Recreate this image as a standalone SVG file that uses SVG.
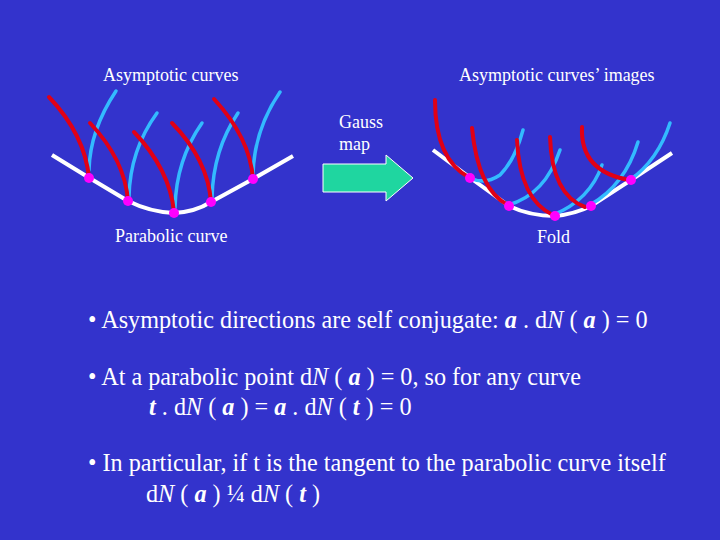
<svg xmlns="http://www.w3.org/2000/svg" width="720" height="540" viewBox="0 0 720 540">
<style>
.t{font-family:"Liberation Serif",serif;fill:#fff}
.s{font-size:18px}
.b{font-size:24.2px}
.e{font-weight:bold;font-style:italic}
.w{fill:none;stroke:#fff;stroke-width:4}
.r{fill:none;stroke:#e00016;stroke-width:4;stroke-linecap:round}
.c{fill:none;stroke:#33bbff;stroke-width:3.5;stroke-linecap:round}
.d{fill:#ff00ff}
</style>
<rect width="720" height="540" fill="#3333cc"/>
<g id="left">
<path class="w" d="M52,155 Q89,178 128,201 Q150,212 174,213 Q195,212 211,202 L253,179 L293,156"/>
<path class="c" d="M89,170 Q90,130 116,91"/>
<path class="c" d="M129,197 Q130,150 157,113"/>
<path class="c" d="M175,208 Q176,160 202,123"/>
<path class="c" d="M212,198 Q213,150 238,113"/>
<path class="c" d="M253,175 Q254,130 280,92"/>
<path class="r" d="M49,97 Q85,135 89,178"/>
<path class="r" d="M90,123 Q125,160 128,201"/>
<path class="r" d="M134,132 Q170,170 174,212"/>
<path class="r" d="M172,123 Q208,160 211,202"/>
<path class="r" d="M214,99 Q250,138 253,179"/>
<circle class="d" cx="89" cy="178" r="5"/><circle class="d" cx="128" cy="201" r="5"/><circle class="d" cx="174" cy="213" r="5"/><circle class="d" cx="211" cy="202" r="5"/><circle class="d" cx="253" cy="179" r="5"/>
</g>
<g id="right">
<path class="w" d="M433,150 Q470,178 509,206 Q530,216 555,216 Q575,214 591,206 L631,180 L672,153"/>
<path class="c" d="M470,178 Q485,185 500,175 Q515,160 523,130"/>
<path class="c" d="M508,205 Q545,195 560,150"/>
<path class="c" d="M553,215 Q590,200 602,165"/>
<path class="c" d="M590,205 Q625,185 638,142"/>
<path class="c" d="M630,180 Q658,160 670,123"/>
<path class="r" d="M435,100 Q435,160 470,178"/>
<path class="r" d="M472,128 Q478,190 508,205"/>
<path class="r" d="M517,140 Q520,200 553,215"/>
<path class="r" d="M550,137 Q552,195 585,207"/>
<path class="r" d="M582,127 Q580,172 630,180"/>
<circle class="d" cx="470" cy="178" r="5"/><circle class="d" cx="509" cy="206" r="5"/><circle class="d" cx="555" cy="216" r="5"/><circle class="d" cx="591" cy="206" r="5"/><circle class="d" cx="631" cy="180" r="5"/>
</g>
<g id="arrow">
<path d="M323,164 H386 V155 L413,178 L386,201 V192 H323 Z" fill="#1fd6a0" stroke="#fff" stroke-width="1"/>
</g>
<text class="t s" x="103" y="81">Asymptotic curves</text>
<text class="t s" x="459" y="81">Asymptotic curves’ images</text>
<text class="t s" x="339" y="128">Gauss</text>
<text class="t s" x="339" y="150">map</text>
<text class="t s" x="115" y="242">Parabolic curve</text>
<text class="t s" x="537" y="243">Fold</text>
<text class="t b" x="88" y="328">• Asymptotic directions are self conjugate:  <tspan class="e">a</tspan> . d<tspan font-style="italic">N</tspan> ( <tspan class="e">a</tspan> ) = 0</text>
<text class="t b" x="88" y="385">• At a parabolic point d<tspan font-style="italic">N</tspan> ( <tspan class="e">a</tspan> ) = 0, so for any curve</text>
<text class="t b" x="149" y="415"><tspan class="e">t</tspan> . d<tspan font-style="italic">N</tspan> ( <tspan class="e">a</tspan> ) = <tspan class="e">a</tspan> . d<tspan font-style="italic">N</tspan> ( <tspan class="e">t</tspan> ) = 0</text>
<text class="t b" x="88" y="471">• In particular, if t is the tangent to the parabolic curve itself</text>
<text class="t b" x="146" y="502">d<tspan font-style="italic">N</tspan> ( <tspan class="e">a</tspan> ) ¼ d<tspan font-style="italic">N</tspan> ( <tspan class="e">t</tspan> )</text>
</svg>
